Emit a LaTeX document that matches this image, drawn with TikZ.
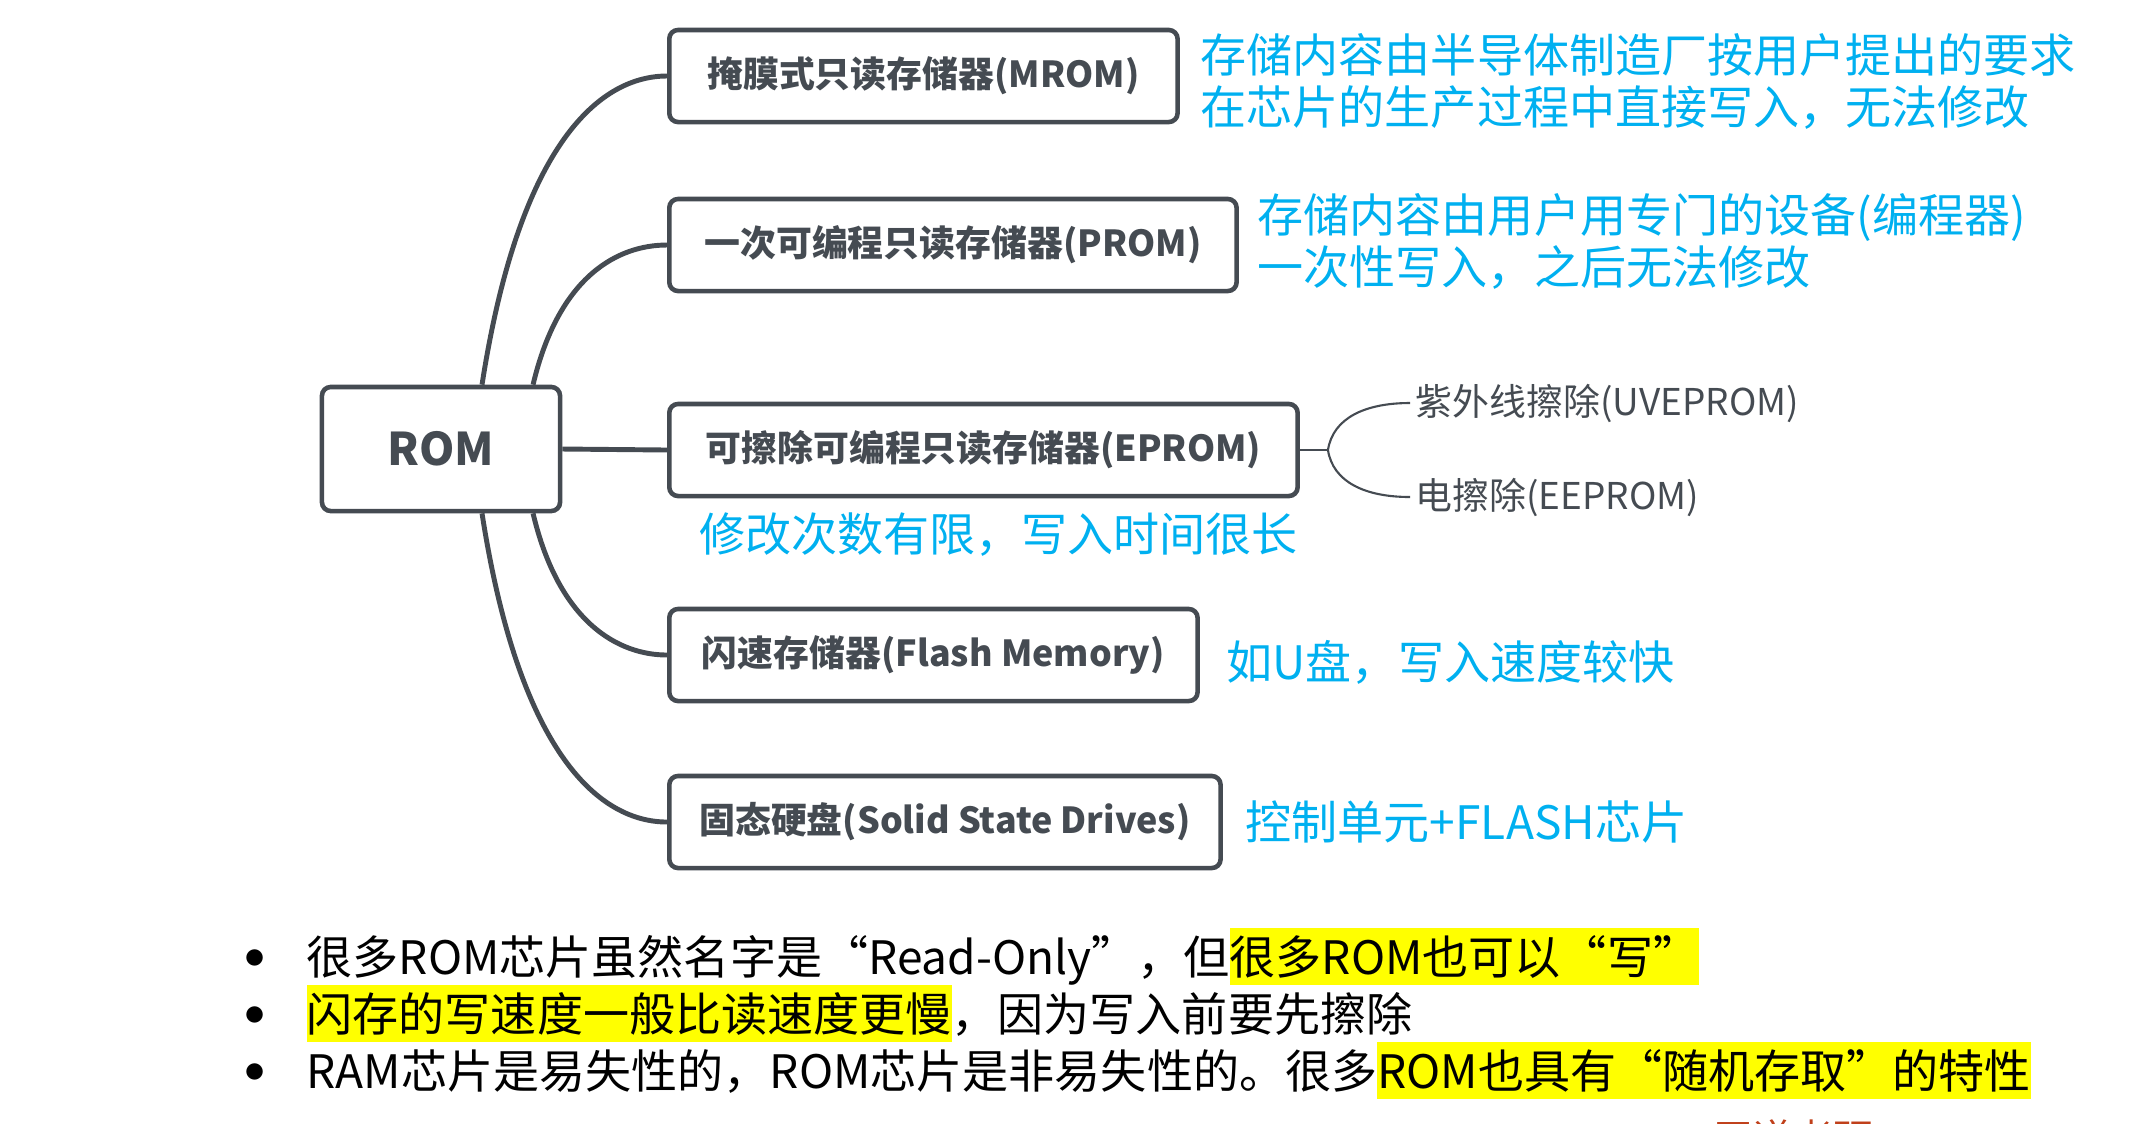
\documentclass[tikz,border=0pt]{standalone}
\usepackage{fontspec}
\setmainfont{Noto Sans CJK SC}
\usetikzlibrary{positioning}

\definecolor{romgray}{HTML}{454B52}
\definecolor{notecyan}{HTML}{00B0F0}
\definecolor{hlyellow}{HTML}{FFFF00}
\definecolor{wdred}{HTML}{C0401A}

\setlength{\fboxsep}{0pt}
\newcommand{\hl}[1]{\colorbox{hlyellow}{\rule[-0.11cm]{0pt}{0.57cm}#1}}

\begin{document}
\begin{tikzpicture}[%
    x=0.01cm, y=-0.01cm,
    node distance=0.2cm,
    membox/.style={%
      draw=romgray, line width=1.3pt, rounded corners=2.5pt,
      minimum height=0.92cm, anchor=west, text=romgray,
      font=\bfseries\fontsize{10.2}{12}\selectfont
    },
    trunk/.style={draw=romgray, line width=1.4pt},
    twig/.style={draw=romgray, line width=0.6pt},
    note/.style={%
      text=notecyan, align=left, inner sep=0pt,
      font=\fontsize{13.1}{14.8}\selectfont
    },
    sublabel/.style={text=romgray, anchor=west, inner sep=0.05cm,
      font=\fontsize{10.5}{12}\selectfont},
    bullettext/.style={anchor=base west, inner sep=0pt,
      font=\fontsize{13.1}{16}\selectfont}
  ]
  \useasboundingbox (0,0) rectangle (2154,1123);
  \clip (0,0) rectangle (2154,1123);

  % root and branches
  \node[membox, anchor=center, minimum width=2.38cm, minimum height=1.24cm,
    font=\bfseries\fontsize{12.8}{14}\selectfont] (rom) at (441,449) {ROM};
  \node[membox, minimum width=5.08cm] (mrom) at (667,76) {掩膜式只读存储器(MROM)};
  \node[membox, minimum width=5.67cm] (prom) at (667,245) {一次可编程只读存储器(PROM)};
  \node[membox, minimum width=6.28cm] (eprom) at (667,450) {可擦除可编程只读存储器(EPROM)};
  \node[membox, minimum width=5.28cm] (flash) at (667,655) {闪速存储器(Flash Memory)};
  \node[membox, minimum width=5.51cm] (ssd) at (667,822) {固态硬盘(Solid State Drives)};

  \draw[trunk] (rom.east) -- (eprom.west);
  \draw[trunk] ([xshift=0.41cm]rom.north) .. controls +(38,-245) and +(-65,0) .. (mrom.west);
  \draw[trunk] ([xshift=0.92cm]rom.north) .. controls +(26,-110) and +(-48,0) .. (prom.west);
  \draw[trunk] ([xshift=0.92cm]rom.south) .. controls +(26,110) and +(-48,0) .. (flash.west);
  \draw[trunk] ([xshift=0.41cm]rom.south) .. controls +(38,245) and +(-65,0) .. (ssd.west);

  % EPROM sub-branches
  \node[sublabel] (uv) at (1410,403) {紫外线擦除(UVEPROM)};
  \node[sublabel] (ee) at (1410,497) {电擦除(EEPROM)};
  \coordinate (fork) at ([xshift=0.28cm]eprom.east);
  \draw[twig] (eprom.east) -- (fork);
  \draw[twig] (fork) .. controls +(5,-32) and +(-45,0) .. (uv.west);
  \draw[twig] (fork) .. controls +(5,32) and +(-45,0) .. (ee.west);

  % notes
  \node[note, right=0.2cm of mrom, yshift=-0.05cm] (mromnote)
    {存储内容由半导体制造厂按用户提出的要求\\在芯片的生产过程中直接写入，无法修改};
  \node[note, right=0.18cm of prom, yshift=0.04cm] (promnote)
    {存储内容由用户用专门的设备(编程器)\\一次性写入，之后无法修改};
  \node[note, below=0.14cm of eprom, xshift=0.15cm] (epromnote) {修改次数有限，写入时间很长};
  \node[note, right=0.26cm of flash, yshift=-0.07cm] (flashnote) {如U盘，写入速度较快};
  \node[note, right=0.22cm of ssd] (ssdnote) {控制单元+FLASH芯片};

  % bullet lines
  \node[bullettext] (dot1) at (244,968) {$\bullet$};
  \node[bullettext] (dot2) at (244,1025) {$\bullet$};
  \node[bullettext] (dot3) at (244,1082) {$\bullet$};
  \node[bullettext] (line1) at (306,974)
    {很多ROM芯片虽然名字是“Read-Only”，但\hl{很多ROM也可以“写”}};
  \node[bullettext] (line2) at (306,1031)
    {\hl{闪存的写速度一般比读速度更慢}，因为写入前要先擦除};
  \node[bullettext] (line3) at (306,1088)
    {RAM芯片是易失性的，ROM芯片是非易失性的。很多\hl{ROM也具有“随机存取”的特性}};

  \node[anchor=north west, inner sep=0pt, text=wdred,
    font=\fontsize{11.4}{13}\selectfont] (brand) at (1713,1119) {王道考研};
\end{tikzpicture}
\end{document}
